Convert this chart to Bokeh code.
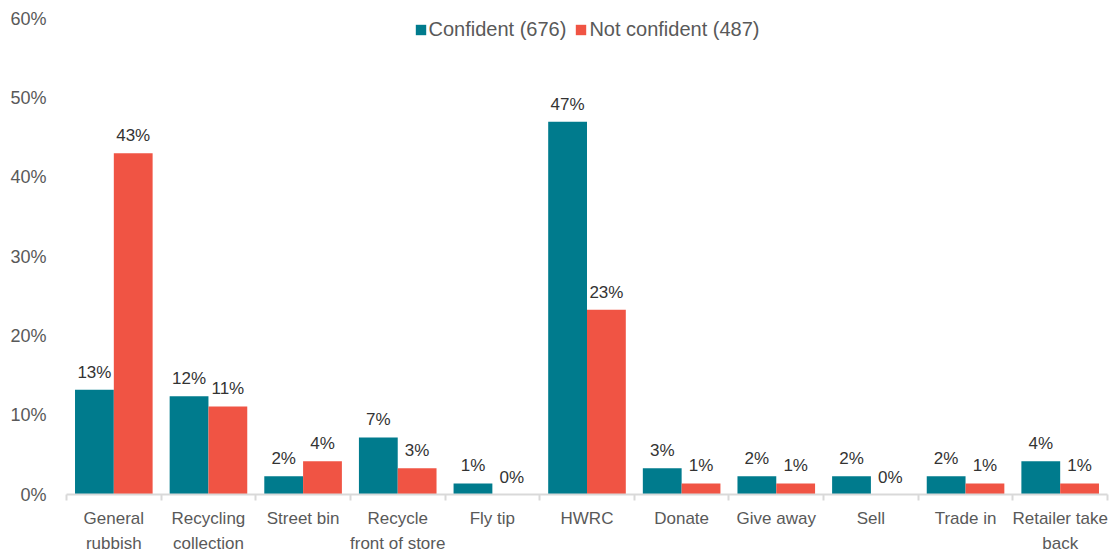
from bokeh.plotting import figure
from bokeh.models import ColumnDataSource, FixedTicker, Legend, LegendItem
from bokeh.transform import dodge
from bokeh.core.properties import value
from bokeh.embed import file_html
from bokeh.resources import INLINE

categories = ["General\nrubbish", "Recycling\ncollection", "Street bin", "Recycle\nfront of store",
              "Fly tip", "HWRC", "Donate", "Give away", "Sell", "Trade in", "Retailer take\nback"]
confident = [13.2, 12.4, 2.3, 7.2, 1.4, 47.0, 3.3, 2.3, 2.3, 2.3, 4.2]
not_confident = [43.0, 11.1, 4.2, 3.3, 0.0, 23.3, 1.4, 1.4, 0.0, 1.4, 1.4]
series_names = ["Confident (676)", "Not confident (487)"]
y_ticks = [0, 10, 20, 30, 40, 50, 60]

FONT = "Liberation Sans"
TEAL = "#007B8D"
RED = "#F05444"

xs = [i + 0.5 for i in range(len(categories))]
src = ColumnDataSource(dict(
    x=xs, c=confident, n=not_confident,
    cl=[f"{round(v)}%" for v in confident],
    nl=[f"{round(v)}%" for v in not_confident],
))

p = figure(width=1110, height=556, output_backend="svg", toolbar_location=None,
           x_range=(0, len(categories)), y_range=(0, 60),
           min_border_left=66, min_border_right=3, min_border_top=18, min_border_bottom=40)
p.outline_line_color = None
p.xgrid.grid_line_color = None
p.ygrid.grid_line_color = None

r1 = p.vbar(x=dodge("x", -0.205, range=p.x_range), top="c", width=0.41, source=src,
            fill_color=TEAL, line_color=None)
r2 = p.vbar(x=dodge("x", 0.205, range=p.x_range), top="n", width=0.41, source=src,
            fill_color=RED, line_color=None)

for col, ycol, off in (("cl", "c", -0.205), ("nl", "n", 0.205)):
    p.text(x=dodge("x", off, range=p.x_range), y=ycol, text=col, source=src,
           text_align="center", text_baseline="bottom", y_offset=-8,
           text_font=value(FONT), text_font_size="17px", text_color="#333333")

# y axis
p.yaxis.ticker = FixedTicker(ticks=y_ticks)
p.yaxis.major_label_overrides = {t: f"{t}%" for t in y_ticks}
p.yaxis.axis_line_color = None
p.yaxis.major_tick_line_color = None
p.yaxis.minor_tick_line_color = None
p.yaxis.major_label_standoff = 14
p.yaxis.major_label_text_font = FONT
p.yaxis.major_label_text_font_size = "18px"
p.yaxis.major_label_text_color = "#595959"

# x axis
p.xaxis.ticker = FixedTicker(ticks=xs, minor_ticks=list(range(len(categories) + 1)))
p.xaxis.major_label_overrides = {x: c for x, c in zip(xs, categories)}
p.xaxis.axis_line_color = "#D9D9D9"
p.xaxis.axis_line_width = 2
p.xaxis.major_tick_line_color = None
p.xaxis.minor_tick_line_color = "#D9D9D9"
p.xaxis.minor_tick_line_width = 2
p.xaxis.minor_tick_out = 6
p.xaxis.minor_tick_in = 0
p.xaxis.major_label_standoff = 8
p.xaxis.major_label_text_font = FONT
p.xaxis.major_label_text_font_size = "17px"
p.xaxis.major_label_text_line_height = 1.35
p.xaxis.major_label_text_color = "#595959"

legend = Legend(items=[LegendItem(label=series_names[0], renderers=[r1]),
                       LegendItem(label=series_names[1], renderers=[r2])],
                location="top_center", orientation="horizontal",
                border_line_color=None, background_fill_alpha=0,
                label_text_font=FONT, label_text_font_size="20px", label_text_color="#595959",
                glyph_width=13, glyph_height=13, spacing=8, label_standoff=2,
                margin=0, padding=9)
p.add_layout(legend)

open("out.html", "w").write(file_html(p, INLINE))
